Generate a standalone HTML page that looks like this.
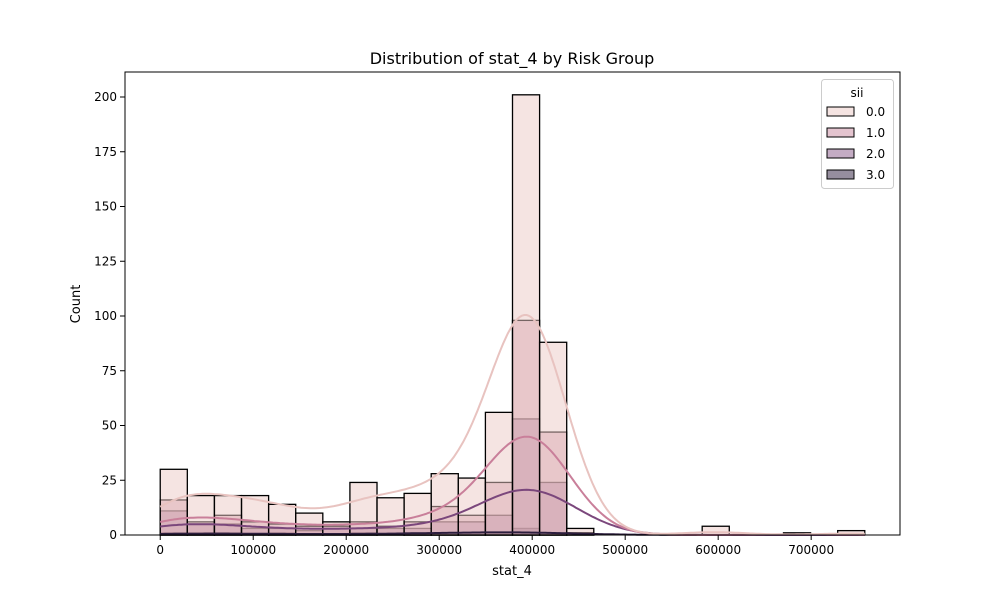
<!DOCTYPE html>
<html><head><meta charset="utf-8"><style>
body{margin:0;background:#fff;font-family:"Liberation Sans","DejaVu Sans",sans-serif;}
svg text{font-family:"DejaVu Sans","Liberation Sans",sans-serif;}
</style></head><body>
<svg id="chart" width="1000" height="600" xmlns="http://www.w3.org/2000/svg">
<rect width="1000" height="600" fill="#fff"/>
<text x="512" y="64" font-size="16" text-anchor="middle" fill="#000">Distribution of stat_4 by Risk Group</text>
<g id="bars"></g>
<g id="kdes"></g>
<g id="axes"></g>
<text x="512" y="575" font-size="13" text-anchor="middle">stat_4</text>
<text x="80" y="304" font-size="13" text-anchor="middle" transform="rotate(-90 80 304)">Count</text>
<g id="legend"></g>
</svg>
<script>
const binStart = 0;
const binWidth = 29140;
const hues = ["0.0","1.0","2.0","3.0"];
const counts0 = [30,18,18,18,14,10,6,24,17,19,28,26,56,201,88,3,0,0,0,0,4,0,0,0,0,2];
const counts1 = [16,6,9,6,5,4,4,6,4,6,13,9,24,98,47,1,0,0,0,0,0,0,0,1,0,0];
const counts2 = [11,5,5,3,3,2,3,3,3,3,6,6,9,53,24,1,0,0,0,0,0,0,0,0,0,0];
const counts3 = [1,1,1,0,1,0,0,1,0,1,1,1,1,3,1,0,0,0,0,0,0,0,0,0,0,0];
const xTicks = [0,100000,200000,300000,400000,500000,600000,700000];
const yTicks = [0,25,50,75,100,125,150,175,200];

const allCounts=[counts0,counts1,counts2,counts3];
const fills=["#ebc9c6","#c98a9f","#8a5a8a","#2d1e3e"];
const lines=["#e8c3c0","#c97f9a","#7b477c","#2d1e3e"];
const sigmas=[36500,41000,48000,60000];
const L=125,R=900,T=72,B=535;
const dataMax=binStart+binWidth*counts0.length;
const pad=(dataMax-binStart)*0.05;
const X=v=>L+(v-(binStart-pad))/(dataMax-binStart+2*pad)*(R-L);
const Y=v=>B-v/200*(B-97);
const NS="http://www.w3.org/2000/svg";
function mk(tag,at,parent){const e=document.createElementNS(NS,tag);for(const k in at)e.setAttribute(k,at[k]);parent.appendChild(e);return e;}
const bars=document.getElementById('bars');
for(let h=3;h>=0;h--){
  allCounts[h].forEach((c,i)=>{
    const x0=X(binStart+i*binWidth),x1=X(binStart+(i+1)*binWidth);
    const r=mk('rect',{x:x0,y:Y(c),width:x1-x0,height:B-Y(c),fill:fills[h],'fill-opacity':0.5,stroke:'#000','stroke-width':1.3},bars);
    
    
  });
}
const kdes=document.getElementById('kdes');
for(let h=3;h>=0;h--){
  const cs=allCounts[h],s=sigmas[h];let d='';
  for(let k=0;k<=300;k++){
    const xv=binStart+ (dataMax-binStart)*k/300;
    let y=0;
    cs.forEach((c,i)=>{const ctr=binStart+(i+0.45)*binWidth;const z=(xv-ctr)/s;y+=c*binWidth*Math.exp(-z*z/2)/(s*Math.sqrt(2*Math.PI));});
    d+=(k?'L':'M')+X(xv).toFixed(1)+','+Y(y).toFixed(1);
  }
  const p=mk('path',{d:d,fill:'none',stroke:lines[h],'stroke-width':2},kdes);
  
  
}
const ax=document.getElementById('axes');
mk('rect',{x:L,y:T,width:R-L,height:B-T,fill:'none',stroke:'#000','stroke-width':1},ax);
xTicks.forEach(t=>{const x=X(t);mk('line',{x1:x,x2:x,y1:B,y2:B+5,stroke:'#000'},ax);
  const tx=mk('text',{x:x,y:B+19,'font-size':12,'text-anchor':'middle'},ax);tx.textContent=t;
  
  });
yTicks.forEach(t=>{const y=Y(t);mk('line',{x1:L-5,x2:L,y1:y,y2:y,stroke:'#000'},ax);
  const tx=mk('text',{x:L-8,y:y+4,'font-size':12,'text-anchor':'end'},ax);tx.textContent=t;
  
  });
const lg=document.getElementById('legend');
mk('rect',{x:821.5,y:79.5,width:72,height:109,rx:3,fill:'#fff','fill-opacity':0.8,stroke:'#ccc'},lg);
const lt=mk('text',{x:857,y:97,'font-size':12,'text-anchor':'middle'},lg);lt.textContent='sii';
hues.forEach((hv,i)=>{const y=107+i*21;
  const r=mk('rect',{x:827,y:y,width:27,height:9,fill:fills[i],'fill-opacity':0.5,stroke:'#000','stroke-width':1},lg);
  
  
  const t=mk('text',{x:866,y:y+9,'font-size':12},lg);t.textContent=hv;
  
  
});
</script>
</body></html>
